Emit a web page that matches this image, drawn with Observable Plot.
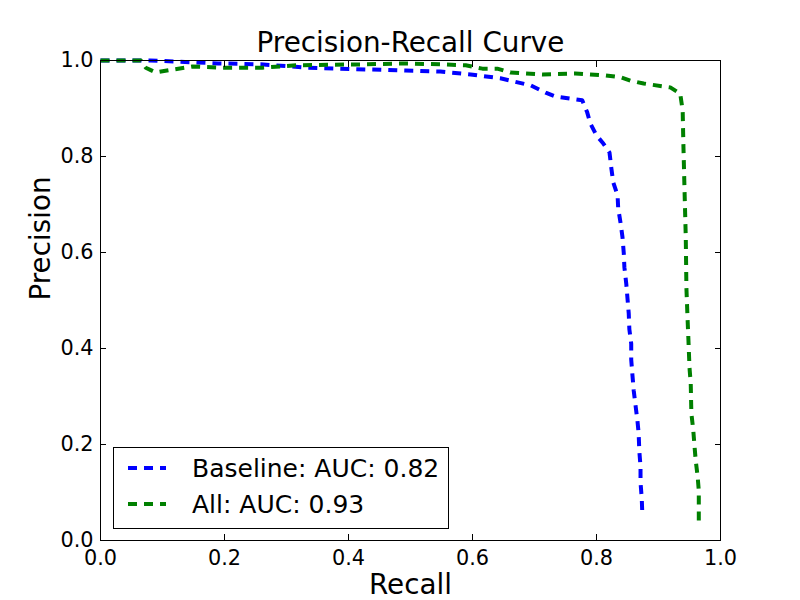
<!DOCTYPE html>
<html>
<head>
<meta charset="utf-8">
<script src="https://cdn.jsdelivr.net/npm/d3@7"></script>
<script src="https://cdn.jsdelivr.net/npm/@observablehq/plot@0.6"></script>
<style>
  body { margin: 0; background: #fff; }
  svg { font-family: "DejaVu Sans", sans-serif; }
</style>
</head>
<body>
<div id="chart"></div>
<script>
// Baseline model: recall / precision pairs
const baselineRecall = [0, 0.08, 0.153, 0.19, 0.258, 0.335, 0.387, 0.492, 0.548, 0.597, 0.645, 0.694, 0.718, 0.734, 0.777, 0.785, 0.79, 0.8, 0.811, 0.821, 0.824, 0.827, 0.834, 0.835, 0.839, 0.842, 0.844, 0.845, 0.848, 0.85, 0.852, 0.853, 0.856, 0.856, 0.858, 0.86, 0.863, 0.866, 0.868, 0.869, 0.871, 0.871, 0.873, 0.874];
const baselinePrecision = [1.0, 1.0, 0.996, 0.994, 0.992, 0.985, 0.983, 0.979, 0.977, 0.971, 0.963, 0.948, 0.933, 0.925, 0.917, 0.892, 0.869, 0.844, 0.827, 0.808, 0.775, 0.746, 0.719, 0.692, 0.66, 0.631, 0.598, 0.569, 0.535, 0.504, 0.473, 0.44, 0.41, 0.377, 0.344, 0.3125, 0.281, 0.25, 0.223, 0.1875, 0.154, 0.121, 0.0875, 0.052];

// Model with all features: recall / precision pairs
const allRecall = [0, 0.065, 0.073, 0.089, 0.116, 0.148, 0.197, 0.261, 0.315, 0.423, 0.492, 0.548, 0.589, 0.616, 0.64, 0.661, 0.713, 0.766, 0.79, 0.815, 0.839, 0.855, 0.876, 0.919, 0.935, 0.939, 0.94, 0.942, 0.944, 0.945, 0.947, 0.948, 0.95, 0.952, 0.953, 0.956, 0.958, 0.96, 0.963, 0.965, 0.965];
const allPrecision = [1.0, 1.0, 0.985, 0.975, 0.981, 0.9875, 0.985, 0.985, 0.99, 0.992, 0.994, 0.992, 0.99, 0.983, 0.983, 0.975, 0.971, 0.973, 0.971, 0.969, 0.965, 0.958, 0.952, 0.944, 0.931, 0.896, 0.833, 0.729, 0.631, 0.527, 0.458, 0.427, 0.36, 0.327, 0.265, 0.231, 0.198, 0.167, 0.135, 0.104, 0.0375];

const seriesNames = ["Baseline: AUC: 0.82", "All: AUC: 0.93"];
const seriesColors = ["#0000ff", "#008000"];
const xTicks = [0, 0.2, 0.4, 0.6, 0.8, 1.0];
const yTicks = [0, 0.2, 0.4, 0.6, 0.8, 1.0];

const toRows = (rs, ps) => rs.map((r, i) => ({recall: r, precision: ps[i]}));
const baseline = toRows(baselineRecall, baselinePrecision);
const all = toRows(allRecall, allPrecision);

const dash = "9,7";
const fmt = d => d.toFixed(1);
const tickFont = 20.8;
const labelFont = 27.8;

const plot = Plot.plot({
  width: 800,
  height: 600,
  marginLeft: 100,
  marginRight: 80,
  marginTop: 60,
  marginBottom: 60,
  x: {domain: [0, 1]},
  y: {domain: [0, 1]},
  style: {fontFamily: "DejaVu Sans, sans-serif", fontSize: `${tickFont}px`, background: "#fff", color: "#000"},
  marks: [
    Plot.line(baseline, {x: "recall", y: "precision", stroke: seriesColors[0], strokeWidth: 4, strokeDasharray: dash, strokeLinecap: "butt", strokeLinejoin: "round"}),
    Plot.line(all, {x: "recall", y: "precision", stroke: seriesColors[1], strokeWidth: 4, strokeDasharray: dash, strokeLinecap: "butt", strokeLinejoin: "round"}),
    Plot.frame({stroke: "#000", strokeWidth: 1}),
    // tick labels
    Plot.axisX(xTicks, {anchor: "bottom", tickSize: 0, tickPadding: 10, tickFormat: fmt, label: null}),
    Plot.axisY(yTicks, {anchor: "left", tickSize: 0, tickPadding: 7, tickFormat: fmt, label: null}),
    // inward tick marks on all four sides
    Plot.axisX(xTicks, {anchor: "bottom", tickSize: -6, tickFormat: () => "", label: null}),
    Plot.axisX(xTicks, {anchor: "top", tickSize: -6, tickFormat: () => "", label: null}),
    Plot.axisY(yTicks, {anchor: "left", tickSize: -6, tickFormat: () => "", label: null}),
    Plot.axisY(yTicks, {anchor: "right", tickSize: -6, tickFormat: () => "", label: null}),
    // titles
    Plot.text(["Precision-Recall Curve"], {frameAnchor: "top", lineAnchor: "middle", dy: -17, fontSize: labelFont, fill: "#000"}),
    Plot.text(["Recall"], {frameAnchor: "bottom", lineAnchor: "middle", dy: 45, fontSize: labelFont, fill: "#000"}),
    Plot.text(["Precision"], {frameAnchor: "left", lineAnchor: "middle", dx: -59, rotate: -90, fontSize: labelFont, fill: "#000"})
  ]
});

document.getElementById("chart").append(plot);

// Legend box in the lower-left corner of the frame
const svg = d3.select(plot);
const left = 100, bottom = 540;
const lg = svg.append("g");
lg.append("rect")
  .attr("x", left + 13.5).attr("y", bottom - 92.5)
  .attr("width", 335).attr("height", 81)
  .attr("fill", "#fff").attr("stroke", "#000").attr("stroke-width", 1);
seriesNames.forEach((name, i) => {
  const cy = bottom - 72 + i * 36;
  lg.append("line")
    .attr("x1", left + 28).attr("x2", left + 66)
    .attr("y1", cy).attr("y2", cy)
    .attr("stroke", seriesColors[i]).attr("stroke-width", 4)
    .attr("stroke-dasharray", dash);
  lg.append("text")
    .attr("x", left + 92).attr("y", cy)
    .attr("dy", "0.35em")
    .attr("text-anchor", "start")
    .attr("font-size", 25)
    .attr("fill", "#000")
    .text(name);
});
</script>
</body>
</html>
